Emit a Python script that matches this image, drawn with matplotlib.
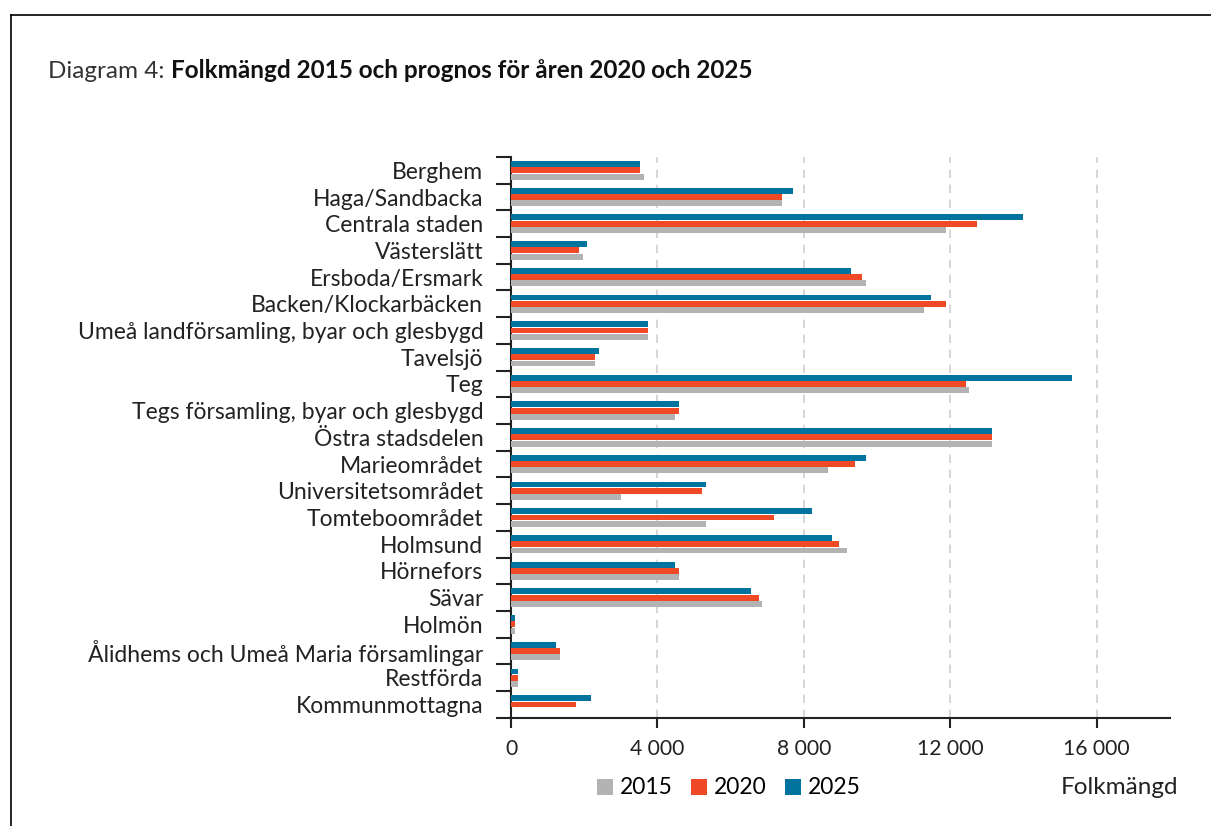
"""Folkmängd 2015 och prognos för åren 2020 och 2025 - horizontal grouped bars."""

import matplotlib
matplotlib.use("Agg")
import matplotlib.pyplot as plt
from matplotlib.lines import Line2D
from matplotlib.patches import Patch
import numpy as np

plt.rcParams["font.family"] = ["Lato", "DejaVu Sans"]

areas = [
    "Berghem", "Haga/Sandbacka", "Centrala staden", "Västerslätt", "Ersboda/Ersmark",
    "Backen/Klockarbäcken", "Umeå landförsamling, byar och glesbygd", "Tavelsjö", "Teg",
    "Tegs församling, byar och glesbygd", "Östra stadsdelen", "Marieområdet",
    "Universitetsområdet", "Tomteboområdet", "Holmsund", "Hörnefors", "Sävar", "Holmön",
    "Ålidhems och Umeå Maria församlingar", "Restförda", "Kommunmottagna",
]
pop_2015 = [3640, 7400, 11890, 1970, 9700, 11270, 3740, 2290, 12520, 4470, 13140,
            8660, 3010, 5320, 9180, 4580, 6870, 110, 1340, 190, 0]
pop_2020 = [3530, 7400, 12730, 1870, 9590, 11890, 3740, 2290, 12420, 4580, 13140,
            9390, 5210, 7180, 8970, 4580, 6770, 110, 1340, 190, 1770]
pop_2025 = [3530, 7710, 13980, 2080, 9290, 11480, 3740, 2390, 15340, 4580, 13140,
            9700, 5320, 8230, 8760, 4470, 6560, 110, 1240, 190, 2180]
years = ["2015", "2020", "2025"]
x_ticks = [0, 4000, 8000, 12000, 16000]
x_tick_labels = ["0", "4 000", "8 000", "12 000", "16 000"]

colors = {"2015": "#b3b3b3", "2020": "#ef4a25", "2025": "#00739f"}

fig = plt.figure(figsize=(12.11, 8.26), dpi=100)
ax = fig.add_axes([0.422, 0.131, 0.544, 0.679])

y = np.arange(len(areas))
h = 0.22
step = 0.235
series = [("2025", pop_2025, -step), ("2020", pop_2020, 0.0), ("2015", pop_2015, step)]
for year, vals, off in series:
    ax.barh(y + off, vals, height=h, color=colors[year], zorder=3)

ax.set_xlim(0, 18000)
ax.set_ylim(len(areas) - 0.5, -0.5)

ax.set_yticks(y)
ax.set_yticklabels(areas, fontsize=16.5, color="#222222")
ax.set_yticks(np.arange(-0.5, len(areas), 1), minor=True)
ax.tick_params(axis="y", which="major", length=0, pad=20)
ax.tick_params(axis="y", which="minor", length=11, width=1.5, color="#222222")

ax.set_xticks(x_ticks)
ax.set_xticklabels(x_tick_labels, fontsize=15.2, color="#222222")
ax.tick_params(axis="x", length=7, width=1.5, color="#222222", pad=8)

for v in x_ticks[1:]:
    ax.axvline(v, color="#d0d0d0", linestyle=(0, (5, 4)), linewidth=1.2, zorder=1)

for side in ["top", "right"]:
    ax.spines[side].set_visible(False)
for side in ["left", "bottom"]:
    ax.spines[side].set_linewidth(1.5)
    ax.spines[side].set_color("#222222")

# title: plain prefix + bold part
t1 = fig.text(48 / 1211, 1 - 72 / 826, "Diagram 4: ", fontsize=17.5, fontweight="normal",
              color="#333333", va="center")
ax.annotate("Folkmängd 2015 och prognos för åren 2020 och 2025", xy=(1, 0),
            xycoords=t1, va="bottom", ha="left", fontsize=17.5, fontweight="bold",
            color="#111111")

handles = [Patch(facecolor=colors[yr], edgecolor="none") for yr in years]
fig.legend(handles, years, loc="center", bbox_to_anchor=(729 / 1211, 1 - 788 / 826),
           ncol=3, frameon=False, fontsize=16.4, handlelength=0.7, handleheight=0.7,
           handletextpad=0.3, columnspacing=0.8)
fig.text(1178 / 1211, 1 - 787 / 826, "Folkmängd", fontsize=17.5, ha="right",
         va="center", color="#222222")

# frame lines of the original figure box
fig.add_artist(Line2D([11 / 1211, 1], [1 - 15 / 826, 1 - 15 / 826], color="black",
                      linewidth=1.2, transform=fig.transFigure))
fig.add_artist(Line2D([11 / 1211, 11 / 1211], [0, 1 - 15 / 826], color="black",
                      linewidth=1.2, transform=fig.transFigure))

fig.savefig("out.png", dpi=100)
